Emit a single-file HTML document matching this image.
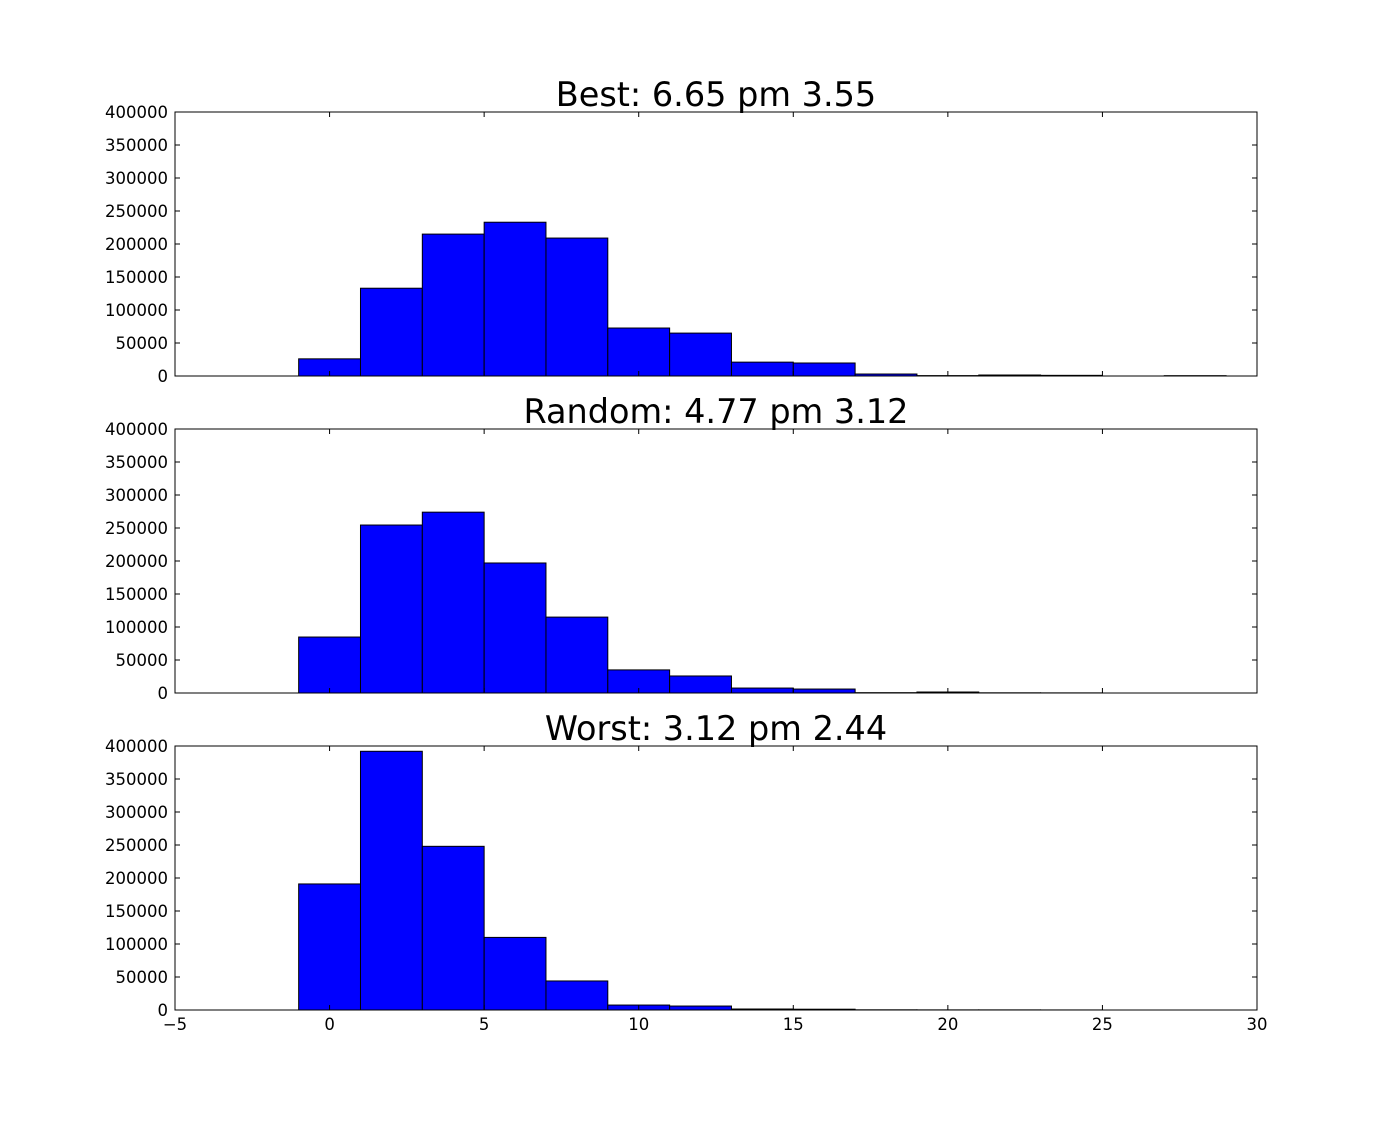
<!DOCTYPE html>
<html><head><meta charset="utf-8"><style>
body{margin:0;background:#fff;}
svg{display:block;font-family:"DejaVu Sans","Liberation Sans",sans-serif;}
</style></head><body>
<svg id="chart" width="1396" height="1122" viewBox="0 0 1396 1122"></svg>
<script>
const binEdges = [-1,1,3,5,7,9,11,13,15,17,19,21,23,25,27,29];
const titles = ["Best: 6.65 pm 3.55","Random: 4.77 pm 3.12","Worst: 3.12 pm 2.44"];
const bestCounts = [26000,133000,215000,233000,209000,72700,65000,21000,19700,3000,600,1500,1000,0,500];
const randomCounts = [84800,254500,274000,197000,115000,35000,25800,7500,6000,500,1500,300,200,0,0];
const worstCounts = [191000,392000,248000,110000,44000,7500,6000,1500,1200,300,200,200,100,0,0];
const xTicks = [-5,0,5,10,15,20,25,30];
const yTicks = [0,50000,100000,150000,200000,250000,300000,350000,400000];
const series = [bestCounts, randomCounts, worstCounts];

const NS="http://www.w3.org/2000/svg";
const svg=document.getElementById('chart');
const L=175,R=1257,H=264,tops=[112,429,746];
const xs=v=>L+(v+5)/35*(R-L);
function el(t,a,p){const e=document.createElementNS(NS,t);for(const k in a)e.setAttribute(k,a[k]);(p||svg).appendChild(e);return e;}
series.forEach((data,pi)=>{
  const top=tops[pi],bot=top+H;
  const ys=v=>bot-v/400000*H;
  const g=el('g',{});
  
  
  data.forEach((v,i)=>{
    if(v<=0)return;
    const x0=xs(binEdges[i]),x1=xs(binEdges[i+1]),y=ys(v);
    const r=el('rect',{x:x0,y:y,width:x1-x0,height:bot-y,fill:'#0000ff',stroke:'#000','stroke-width':1},g);
    
    
  });
  const f=el('rect',{x:L,y:top,width:R-L,height:H,fill:'none',stroke:'#000','stroke-width':1},g);
  
  
  yTicks.forEach(t=>{
    const y=ys(t);
    el('line',{x1:L,x2:L+5,y1:y,y2:y,stroke:'#000'},g);
    el('line',{x1:R,x2:R-5,y1:y,y2:y,stroke:'#000'},g);
    const tx=el('text',{x:L-7,y:y+6,'text-anchor':'end','font-size':16.5},g);
    tx.textContent=t;
    
    
  });
  xTicks.forEach(t=>{
    const x=xs(t);
    el('line',{x1:x,x2:x,y1:bot,y2:bot-5,stroke:'#000'},g);
    el('line',{x1:x,x2:x,y1:top,y2:top+5,stroke:'#000'},g);
    if(pi===2){
      const tx=el('text',{x:x,y:bot+20,'text-anchor':'middle','font-size':16.5},g);
      tx.textContent=t<0?'\u2212'+(-t):t;
      
      
    }
  });
  const tt=el('text',{x:(L+R)/2,y:top-6,'text-anchor':'middle','font-size':33.5},g);
  tt.textContent=titles[pi];
  
  
});
</script>
</body></html>
